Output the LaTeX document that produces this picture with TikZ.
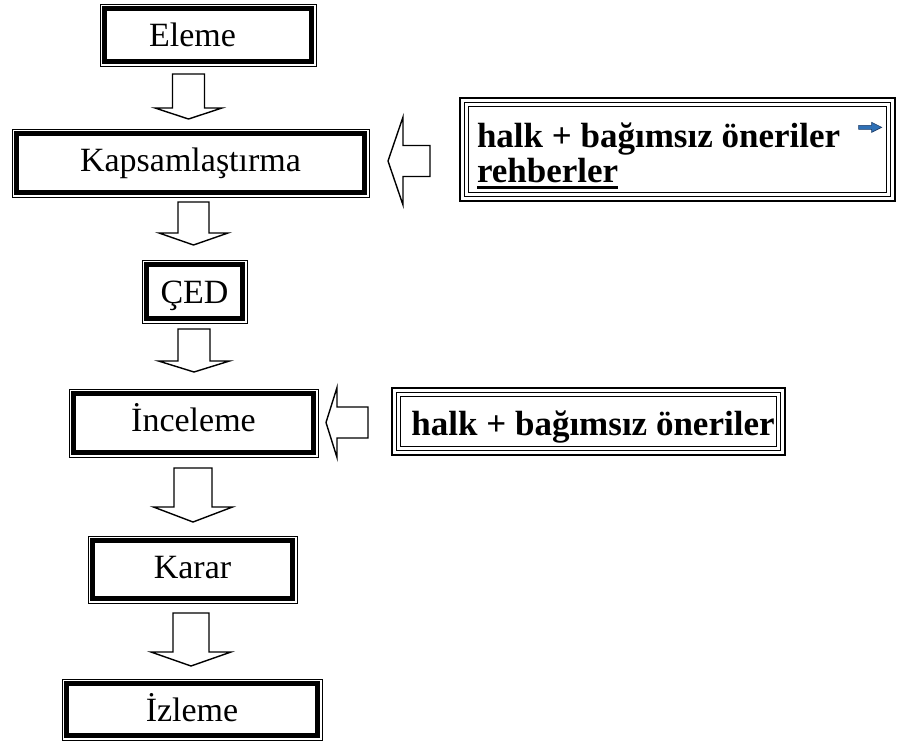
\documentclass[tikz,border=0pt]{standalone}
\usepackage{fontspec}
\setmainfont{Liberation Serif}
\usetikzlibrary{calc}

\definecolor{cueblue}{RGB}{46,112,182}
\definecolor{cueedge}{RGB}{28,58,100}

% thick underline used for the guideline word
\newcommand\thickul[1]{\leavevmode\setbox0\hbox{#1}\rlap{\rule[-6.5pt]{\wd0}{3pt}}\box0}

% outlined block arrow from tail #1 to tip #2;
% #3 half shaft width, #4 half head width, #5 head length
\newcommand\blockarrow[5]{%
  \coordinate (ba-base) at ($(#2)!#5!(#1)$);
  \draw[blockline] ($(#1)!#3!90:(#2)$) -- ($(ba-base)!#3!90:(#2)$)
    -- ($(ba-base)!#4!90:(#2)$) -- (#2) -- ($(ba-base)!#4!-90:(#2)$)
    -- ($(ba-base)!#3!-90:(#2)$) -- ($(#1)!#3!-90:(#2)$) -- cycle;}

\tikzset{
  stagebox/.style={draw, line width=1pt, inner sep=0pt,
    font=\fontsize{34}{34}\selectfont, text height=24pt,
    path picture={\draw[line width=4.8pt]
      ([shift={(4.8pt,4.8pt)}]path picture bounding box.south west) rectangle
      ([shift={(-4.8pt,-4.8pt)}]path picture bounding box.north east);}},
  inputbox/.style={draw, line width=1.3pt, inner sep=0pt,
    font=\bfseries\fontsize{35}{35}\selectfont,
    path picture={
      \draw[line width=1.2pt]
      ([shift={(4.3pt,4.3pt)}]path picture bounding box.south west) rectangle
      ([shift={(-4.3pt,-4.3pt)}]path picture bounding box.north east);
      \draw[line width=1.3pt]
      ([shift={(8.6pt,8.6pt)}]path picture bounding box.south west) rectangle
      ([shift={(-8.6pt,-8.6pt)}]path picture bounding box.north east);}},
  blockline/.style={draw, line width=1.4pt, line join=miter, fill=white},
}

\begin{document}
\begin{tikzpicture}[x=1pt,y=-1pt]
\useasboundingbox (0,0) rectangle (912,745);

% main sequence of stages
\node[stagebox, minimum width=216pt, minimum height=62pt, text depth=2pt]
  (eleme) at (208,35) {Eleme\hspace*{31pt}};
\node[stagebox, minimum width=357pt, minimum height=68pt, text depth=8pt]
  (kapsam) at (190.5,163) {Kapsamlaştırma};
\node[stagebox, minimum width=105pt, minimum height=63pt, text depth=1pt]
  (ced) at (194.5,291.5) {ÇED};
\node[stagebox, minimum width=249pt, minimum height=68pt, text depth=8pt]
  (inceleme) at (193.5,423) {İnceleme};
\node[stagebox, minimum width=209pt, minimum height=67pt, text depth=7pt]
  (karar) at (192.5,569.5) {Karar};
\node[stagebox, minimum width=260pt, minimum height=61pt, text depth=0pt]
  (izleme) at (192,709.5) {İzleme};

% public and independent input
\node[inputbox, minimum width=435pt, minimum height=103pt,
      text width=401pt, align=flush left, text height=30pt, text depth=35pt]
  (guide) at (677.5,149.5) {halk + bağımsız öneriler\\\thickul{rehberler}};
\node[inputbox, minimum width=393pt, minimum height=67pt,
      text height=27pt, text depth=0pt]
  (review) at (588.5,421.5) {\hspace*{9pt}halk + bağımsız öneriler};

% small blue arrow after the first line
\coordinate (cue) at ($(guide.north east)+(-37,30)$);
\draw[fill=cueblue, draw=cueedge, line width=0.6pt, line join=miter]
  ($(cue)+(0,-2)$) -- ++(13,0) -- ++(0,-3) -- ($(cue)+(23,0)$)
  -- ($(cue)+(13,5)$) -- ++(0,-3) -- ($(cue)+(0,2)$) -- cycle;

% flow arrows
\coordinate (d1s) at (188.5,74);  \coordinate (d1t) at (188.5,119);
\coordinate (d2s) at (193.5,202); \coordinate (d2t) at (193.5,245);
\coordinate (d3s) at (194,329);   \coordinate (d3t) at (194,372);
\coordinate (d4s) at (193,468);   \coordinate (d4t) at (193,522);
\coordinate (d5s) at (191,613);   \coordinate (d5t) at (191,666);
\coordinate (l1s) at (430,161);   \coordinate (l1t) at (388,161);
\coordinate (l2s) at (368,422.5); \coordinate (l2t) at (326,422.5);

\blockarrow{d1s}{d1t}{16pt}{33.5pt}{11pt}
\blockarrow{d2s}{d2t}{15.5pt}{34.5pt}{12pt}
\blockarrow{d3s}{d3t}{16pt}{35.5pt}{11pt}
\blockarrow{d4s}{d4t}{19pt}{39.5pt}{15pt}
\blockarrow{d5s}{d5t}{18pt}{40pt}{14pt}
\blockarrow{l1s}{l1t}{15.5pt}{44pt}{15pt}
\blockarrow{l2s}{l2t}{15.5pt}{35pt}{11pt}
\end{tikzpicture}
\end{document}
